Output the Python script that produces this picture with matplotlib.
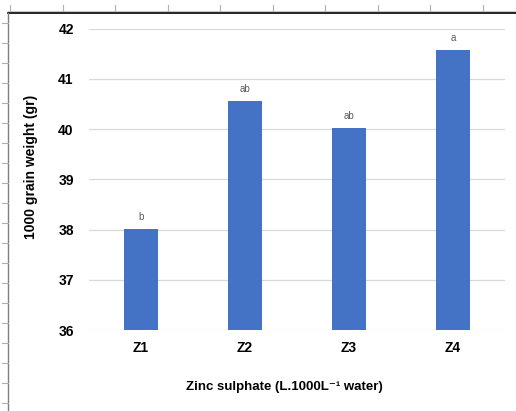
import matplotlib
matplotlib.use("Agg")
import matplotlib.pyplot as plt
from matplotlib.lines import Line2D

categories = ["Z1", "Z2", "Z3", "Z4"]
grain_weight = [38.02, 40.57, 40.02, 41.58]
letters = ["b", "ab", "ab", "a"]
y_ticks = [36, 37, 38, 39, 40, 41, 42]

plt.rcParams["font.family"] = ["Liberation Sans", "DejaVu Sans"]

W, H = 516, 411
fig = plt.figure(figsize=(W / 100, H / 100), dpi=100)
fig.patch.set_facecolor("white")


def fx(px):
    return px / W


def fy(py):
    return 1 - py / H


# spreadsheet screenshot frame: ruler ticks + borders
fig.add_artist(Line2D([fx(8), fx(516)], [fy(11), fy(11)], color="#c8c8c8", lw=0.8))
for tx in [10, 63, 115, 168, 220, 273, 325, 378, 430, 483]:
    fig.add_artist(Line2D([fx(tx), fx(tx)], [fy(5), fy(11)], color="#b0b0b0", lw=0.8))
fig.add_artist(Line2D([fx(8), fx(516)], [fy(13), fy(13)], color="black", lw=1.2))
fig.add_artist(Line2D([fx(8), fx(8)], [fy(13), fy(411)], color="#808080", lw=1.0))
for ty in range(23, 411, 20):
    fig.add_artist(Line2D([fx(2), fx(8)], [fy(ty), fy(ty)], color="#b0b0b0", lw=0.8))

ax = fig.add_axes([fx(89), fy(330), fx(505) - fx(89), fy(28.7) - fy(330)])
x = list(range(len(categories)))
ax.bar(x, grain_weight, width=0.32, color="#4472C4", zorder=2)
for xi, v, lab in zip(x, grain_weight, letters):
    ax.annotate(lab, (xi, v), xytext=(0, 5), textcoords="offset points",
                ha="center", va="bottom", fontsize=7, color="#595959")

ax.set_xlim(-0.5, len(categories) - 0.5)
ax.set_ylim(36, 42)
ax.set_yticks(y_ticks)
ax.set_yticklabels([str(t) for t in y_ticks], fontsize=10, fontweight="bold")
ax.set_xticks(x)
ax.set_xticklabels(categories, fontsize=10, fontweight="bold")
ax.tick_params(axis="both", length=0)
ax.tick_params(axis="y", pad=11)
ax.tick_params(axis="x", pad=8)
ax.grid(axis="y", color="#d9d9d9", lw=0.9, zorder=0)
ax.set_axisbelow(True)
for s in ax.spines.values():
    s.set_visible(False)

ax.set_xlabel("Zinc sulphate (L.1000L\u207b\u00b9 water)", fontsize=9.5,
              fontweight="bold")
ax.xaxis.set_label_coords(0.469, -0.168)
ax.set_ylabel("1000 grain weight (gr)", fontsize=10, fontweight="bold")
ax.yaxis.set_label_coords(-0.123, 0.541)

fig.savefig("out.png", dpi=100)
